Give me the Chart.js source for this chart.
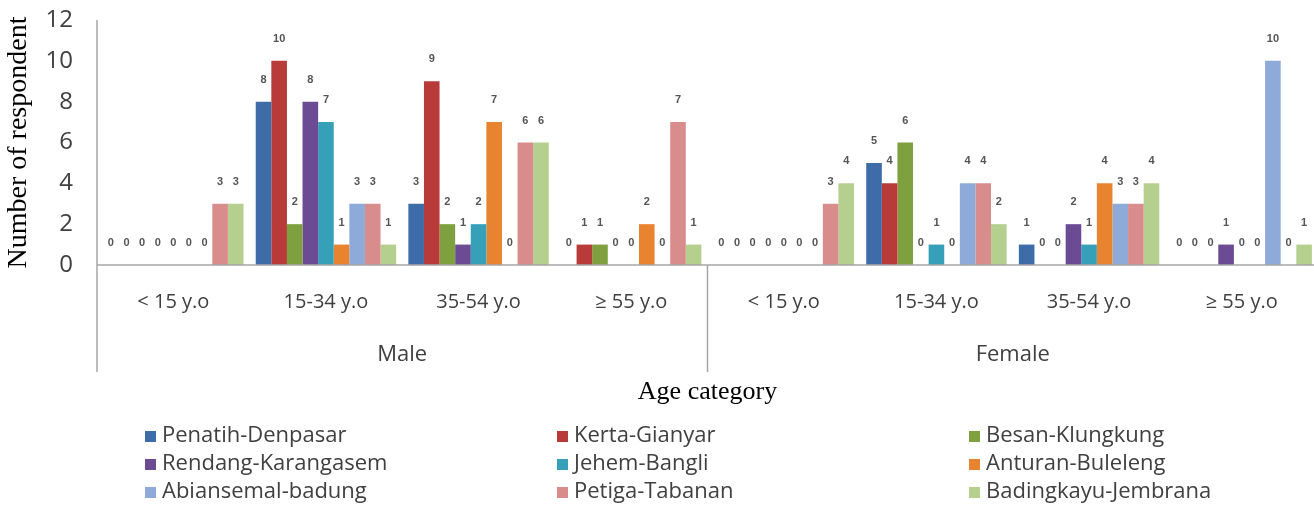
<!DOCTYPE html>
<html>
<head>
<meta charset="utf-8">
<script src="https://cdn.jsdelivr.net/npm/chart.js@4"></script>
<style>
  html, body { margin: 0; padding: 0; background: #ffffff; overflow: hidden; }
  #wrap { position: absolute; left: 0; top: 0; width: 1318px; height: 521px; }
</style>
</head>
<body>
<div id="wrap"><canvas id="c" width="1318" height="521"></canvas></div>
<script>
// Age categories, repeated for each sex group
const categories = ['< 15 y.o', '15-34 y.o', '35-54 y.o', '≥ 55 y.o', '< 15 y.o', '15-34 y.o', '35-54 y.o', '≥ 55 y.o'];
const groups = ['Male', 'Female'];
const yTicks = [0, 2, 4, 6, 8, 10, 12];

// Respondents per village (Male: 4 age classes, then Female: 4 age classes)
const penatihDenpasar   = [0, 8, 3, 0, 0, 5, 1, 0];
const kertaGianyar      = [0, 10, 9, 1, 0, 4, 0, 0];
const besanKlungkung    = [0, 2, 2, 1, 0, 6, 0, 0];
const rendangKarangasem = [0, 8, 1, 0, 0, 0, 2, 1];
const jehemBangli       = [0, 7, 2, 0, 0, 1, 1, 0];
const anturanBuleleng   = [0, 1, 7, 2, 0, 0, 4, 0];
const abiansemalBadung  = [0, 3, 0, 0, 0, 4, 3, 10];
const petigaTabanan     = [3, 3, 6, 7, 3, 4, 3, 0];
const badingkayuJembrana= [3, 1, 6, 1, 4, 2, 4, 1];

const seriesNames = ['Penatih-Denpasar', 'Kerta-Gianyar', 'Besan-Klungkung',
  'Rendang-Karangasem', 'Jehem-Bangli', 'Anturan-Buleleng',
  'Abiansemal-badung', 'Petiga-Tabanan', 'Badingkayu-Jembrana'];
const seriesValues = [penatihDenpasar, kertaGianyar, besanKlungkung, rendangKarangasem,
  jehemBangli, anturanBuleleng, abiansemalBadung, petigaTabanan, badingkayuJembrana];
const seriesColors = ['#3d6ca8', '#b83b3a', '#7fa03f', '#6b4b93', '#36a0b9',
  '#e8842f', '#8eaad9', '#d88d8c', '#b5d08e'];

const AXIS_COLOR = '#a6a6a6';
const TEXT_COLOR = '#404040';

// Value labels above each bar
const valueLabels = {
  id: 'valueLabels',
  afterDatasetsDraw(chart) {
    const ctx = chart.ctx;
    ctx.save();
    ctx.font = 'bold 11px "Liberation Sans", sans-serif';
    ctx.fillStyle = '#555555';
    ctx.textAlign = 'center';
    ctx.textBaseline = 'middle';
    chart.data.datasets.forEach((ds, i) => {
      const meta = chart.getDatasetMeta(i);
      meta.data.forEach((bar, j) => {
        ctx.fillText(String(ds.data[j]), bar.x, bar.y - 22);
      });
    });
    ctx.restore();
  }
};

// Axis frame, group separators, group names, axis title and legend
const frame = {
  id: 'frame',
  afterDraw(chart) {
    const ctx = chart.ctx;
    const area = chart.chartArea;
    const xs = chart.scales.x;
    const y0 = chart.scales.y.getPixelForValue(0);
    const lineBottom = 372;
    ctx.save();
    ctx.strokeStyle = AXIS_COLOR;
    ctx.lineWidth = 1.5;
    // vertical axis, extended through the category rows
    ctx.beginPath();
    ctx.moveTo(area.left, area.top);
    ctx.lineTo(area.left, lineBottom);
    ctx.stroke();
    // baseline
    ctx.beginPath();
    ctx.moveTo(area.left, y0);
    ctx.lineTo(area.right, y0);
    ctx.stroke();
    // separator between the two sex groups
    const per = categories.length / groups.length;
    const halfStep = (xs.getPixelForValue(1) - xs.getPixelForValue(0)) / 2;
    for (let g = 1; g < groups.length; g++) {
      const sx = xs.getPixelForValue(g * per) - halfStep;
      ctx.beginPath();
      ctx.moveTo(sx, y0);
      ctx.lineTo(sx, lineBottom);
      ctx.stroke();
    }
    // group names
    ctx.fillStyle = TEXT_COLOR;
    ctx.font = '22px "Open Sans", sans-serif';
    ctx.textAlign = 'center';
    ctx.textBaseline = 'middle';
    groups.forEach((name, g) => {
      const x0 = xs.getPixelForValue(g * per) - halfStep;
      const x1 = xs.getPixelForValue(g * per + per - 1) + halfStep;
      ctx.fillText(name, (x0 + x1) / 2, 355);
    });
    // axis title
    ctx.fillStyle = '#000000';
    ctx.font = '26px "Liberation Serif", serif';
    ctx.fillText('Age category', (area.left + area.right) / 2, 392);

    // legend: three columns, three rows
    const colX = [145, 557, 969];
    const rowY = [436, 464, 492];
    ctx.font = '22px "Open Sans", sans-serif';
    ctx.textAlign = 'left';
    seriesNames.forEach((name, i) => {
      const cx = colX[i % 3];
      const cy = rowY[Math.floor(i / 3)];
      ctx.fillStyle = seriesColors[i];
      ctx.fillRect(cx, cy - 5, 11, 11);
      ctx.fillStyle = TEXT_COLOR;
      ctx.fillText(name, cx + 17, cy);
    });
    ctx.restore();
  }
};

new Chart(document.getElementById('c'), {
  type: 'bar',
  data: {
    labels: categories,
    datasets: seriesNames.map((name, i) => ({
      label: name,
      data: seriesValues[i],
      backgroundColor: seriesColors[i],
      borderWidth: 0
    }))
  },
  options: {
    responsive: false,
    animation: false,
    events: [],
    layout: { padding: { left: 0, right: 0, top: 20, bottom: 196 } },
    datasets: { bar: { categoryPercentage: 0.92, barPercentage: 1.0 } },
    plugins: { legend: { display: false }, tooltip: { enabled: false } },
    scales: {
      x: {
        grid: { display: false, drawTicks: false },
        border: { display: false },
        ticks: { color: TEXT_COLOR, font: { family: '"Open Sans", sans-serif', size: 20 }, padding: 25, maxRotation: 0, autoSkip: false },
        afterFit: s => { s.height = 60; }
      },
      y: {
        min: 0, max: 12,
        afterBuildTicks: s => { s.ticks = yTicks.map(v => ({ value: v })); },
        grid: { display: false, drawTicks: false },
        border: { display: false },
        ticks: { color: TEXT_COLOR, font: { family: '"Open Sans", sans-serif', size: 24 }, padding: 24 },
        title: { display: true, text: 'Number of respondent', color: '#000000',
                 font: { family: '"Liberation Serif", serif', size: 28 }, padding: { top: 2, bottom: 0 } },
        afterFit: s => { s.width = 97; s.paddingTop = 0; s.paddingBottom = 0; }
      }
    }
  },
  plugins: [valueLabels, frame]
});
</script>
</body>
</html>
